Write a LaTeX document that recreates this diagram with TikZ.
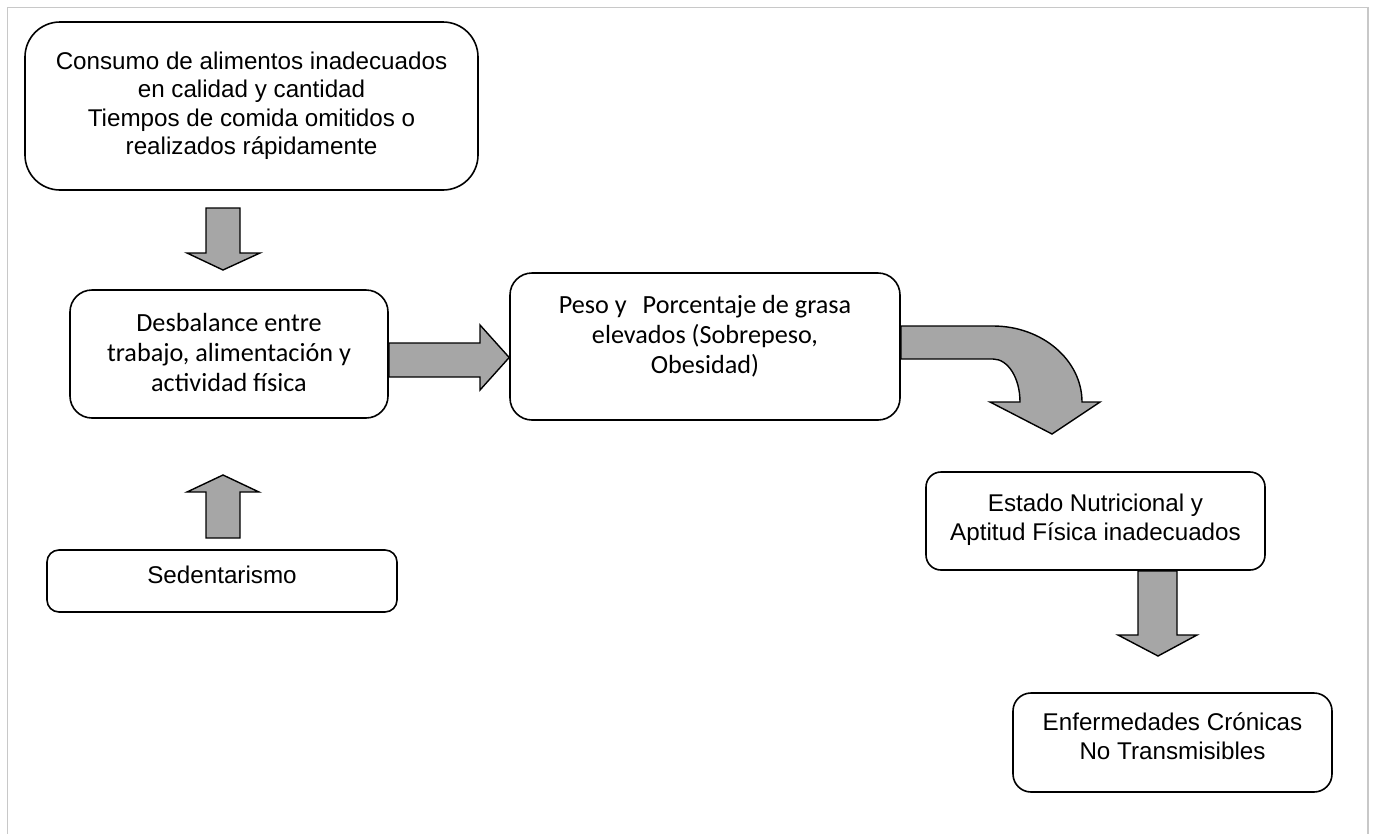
\documentclass[tikz,border=0pt]{standalone}
\usepackage{fontspec}
\newfontfamily\arialf{Liberation Sans}
\newfontfamily\calibf{Carlito}
\usetikzlibrary{calc}
\definecolor{arrowgray}{HTML}{A6A6A6}
\definecolor{framegray}{HTML}{C8C8C8}
\tikzset{
  box/.style={draw=black, line width=1.6pt, fill=white, inner sep=0pt},
  arialtext/.style={align=center, inner sep=0pt, font=\arialf\fontsize{24.2}{28.5}\selectfont},
  calibtext/.style={align=center, inner sep=0pt, font=\calibf\fontsize{26.2}{30}\selectfont},
  blockarrow/.style={draw=black, line width=1.4pt, fill=arrowgray, line join=miter},
}
\begin{document}
\begin{tikzpicture}[x=1pt,y=-1pt]
\useasboundingbox (0,0) rectangle (1376,833);
% frame
\draw[framegray, line width=1.5pt] (7.5,840) -- (7.5,7.5) -- (1368,7.5) -- (1368,840);

% boxes
\node[box, rounded corners=35pt, minimum width=453pt, minimum height=168pt] (top) at (251.5,106) {};
\node[arialtext] (toptxt) at (251.5,105.7)
  {Consumo de alimentos inadecuados\\en calidad y cantidad\\Tiempos de comida omitidos o\\realizados rápidamente};

\node[box, rounded corners=22pt, minimum width=318pt, minimum height=128pt] (des) at (229,354) {};
\node[calibtext] (destxt) at (229,352)
  {Desbalance entre\\trabajo, alimentación y\\actividad física};

\node[box, rounded corners=12pt, minimum width=350pt, minimum height=62pt] (sed) at (222,581) {};
\node[arialtext] (sedtxt) at (222,575.2) {Sedentarismo};

\node[box, rounded corners=22pt, minimum width=390pt, minimum height=147pt] (peso) at (705,346.5) {};
\node[calibtext] (pesotxt) at (705,335.9)
  {Peso y\hspace{16pt}Porcentaje de grasa\\elevados (Sobrepeso,\\Obesidad)};

\node[box, rounded corners=15pt, minimum width=339pt, minimum height=98pt] (est) at (1095.5,521) {};
\node[arialtext] (esttxt) at (1095.5,519.6)
  {Estado Nutricional y\\Aptitud Física inadecuados};

\node[box, rounded corners=18pt, minimum width=319pt, minimum height=99pt] (enf) at (1172.5,742.5) {};
\node[arialtext] (enftxt) at (1172.5,736.3)
  {Enfermedades Crónicas\\No Transmisibles};

% block arrows
% top -> des
\draw[blockarrow] (206,208) -- (240,208) -- (240,253) -- (260,253) -- (223,270) -- (187,253) -- (206,253) -- cycle;
% sed -> des
\draw[blockarrow] (206,538) -- (206,492) -- (187,492) -- (223,475) -- (259,492) -- (240,492) -- (240,538) -- cycle;
% des -> peso
\draw[blockarrow] (des.east |- 0,343) -- (480,343) -- (480,325) -- (peso.west |- 0,357.5) -- (480,390) -- (480,377) -- (des.east |- 0,377) -- cycle;
% peso -> est (curved)
\draw[blockarrow] (peso.east |- 0,326) -- (993,326) .. controls (1042,326) and (1082,360) .. (1082,402)
  -- (1100,402) -- (1052,434) -- (990,402) -- (1020,402)
  .. controls (1020,378) and (1008,359) .. (993,359) -- (peso.east |- 0,359) -- cycle;
% est -> enf
\draw[blockarrow] (est.south -| 1138,0) -- (est.south -| 1177,0) -- (1177,635) -- (1197,635) -- (1158,656) -- (1118,635) -- (1138,635) -- cycle;
\end{tikzpicture}
\end{document}
